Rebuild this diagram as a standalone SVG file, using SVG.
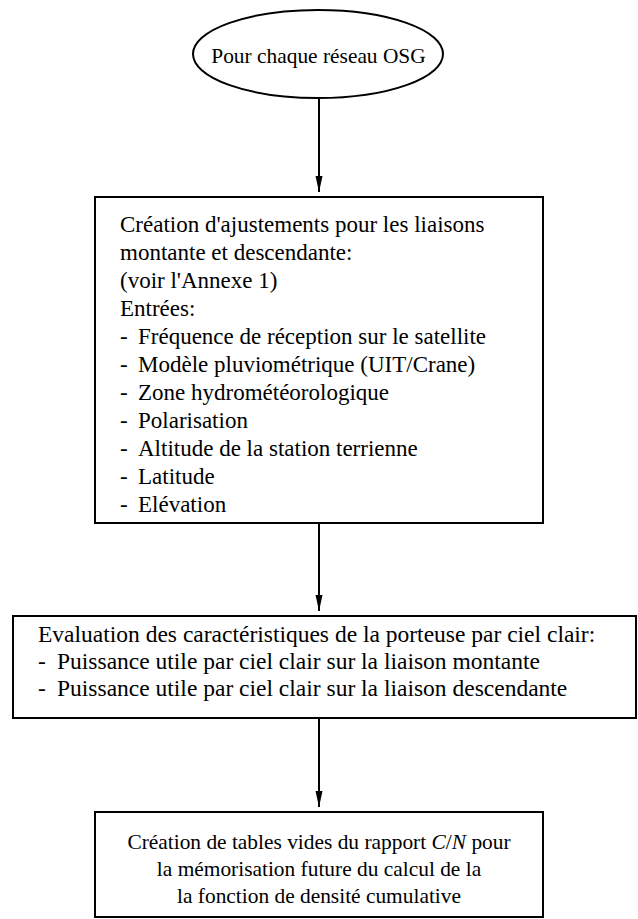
<svg xmlns="http://www.w3.org/2000/svg" width="638" height="919" viewBox="0 0 638 919">
<style>
.s{fill:none;stroke:#000;stroke-width:2}
.t{font-family:"Liberation Serif","Times New Roman",serif;font-size:23px;fill:#000}
.m{font-size:21.4px}
.b{font-size:23.5px}
.c{text-anchor:middle}
.w{fill:#fff;stroke:#000;stroke-width:2}
</style>
<defs>
<marker id="a" markerWidth="16" markerHeight="8" refX="16" refY="3.5" orient="auto" markerUnits="userSpaceOnUse">
<path d="M0,0 L16,3.5 L0,7 z" fill="#000"/>
</marker>
</defs>
<g id="connectors">
<line class="s" x1="319" y1="98" x2="319" y2="192" marker-end="url(#a)"/>
<line class="s" x1="319" y1="523" x2="319" y2="611" marker-end="url(#a)"/>
<line class="s" x1="319" y1="718" x2="319" y2="807" marker-end="url(#a)"/>
</g>
<g id="start">
<ellipse class="w" cx="318" cy="54" rx="125" ry="44"/>
<text class="t m c" x="318.5" y="63">Pour chaque réseau OSG</text>
</g>
<g id="box1">
<rect class="w" x="95" y="197" width="448" height="326"/>
<text class="t" x="120" y="232">Création d'ajustements pour les liaisons</text>
<text class="t" x="120" y="260">montante et descendante:</text>
<text class="t" x="120" y="288">(voir l'Annexe 1)</text>
<text class="t" x="120" y="316">Entrées:</text>
<text class="t" y="344"><tspan x="120">-</tspan><tspan x="138">Fréquence de réception sur le satellite</tspan></text>
<text class="t" y="372"><tspan x="120">-</tspan><tspan x="138">Modèle pluviométrique (UIT/Crane)</tspan></text>
<text class="t" y="400"><tspan x="120">-</tspan><tspan x="138">Zone hydrométéorologique</tspan></text>
<text class="t" y="428"><tspan x="120">-</tspan><tspan x="138">Polarisation</tspan></text>
<text class="t" y="456"><tspan x="120">-</tspan><tspan x="138">Altitude de la station terrienne</tspan></text>
<text class="t" y="484"><tspan x="120">-</tspan><tspan x="138">Latitude</tspan></text>
<text class="t" y="512"><tspan x="120">-</tspan><tspan x="138">Elévation</tspan></text>
</g>
<g id="box2">
<rect class="w" x="13" y="616" width="623" height="102"/>
<text class="t b" x="38" y="642">Evaluation des caractéristiques de la porteuse par ciel clair:</text>
<text class="t b" y="669"><tspan x="38">-</tspan><tspan x="57">Puissance utile par ciel clair sur la liaison montante</tspan></text>
<text class="t b" y="696"><tspan x="38">-</tspan><tspan x="57">Puissance utile par ciel clair sur la liaison descendante</tspan></text>
</g>
<g id="box3">
<rect class="w" x="95" y="812" width="448" height="105"/>
<text class="t m c" x="319" y="849">Création de tables vides du rapport <tspan font-style="italic">C</tspan>/<tspan font-style="italic">N</tspan> pour</text>
<text class="t m c" x="319" y="876">la mémorisation future du calcul de la</text>
<text class="t m c" x="319" y="903">la fonction de densité cumulative</text>
</g>
</svg>
